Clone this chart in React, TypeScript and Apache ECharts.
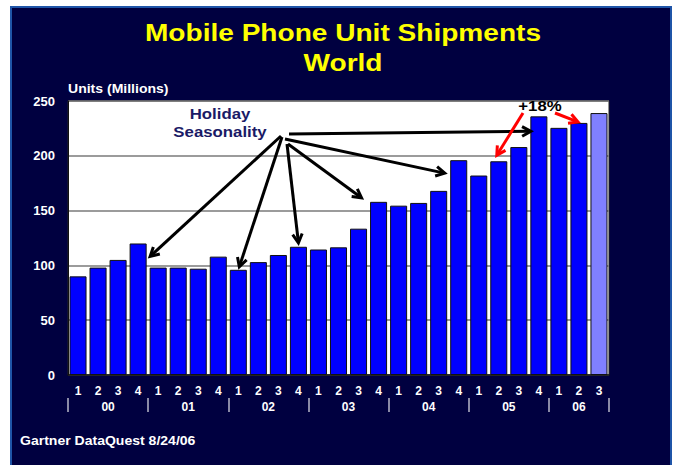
import { useEffect, useRef } from 'react';
import * as echarts from 'echarts';

// ---- data ----
const years = ['00', '01', '02', '03', '04', '05', '06'];
const quarterLabels = ['1', '2', '3', '4'];
// Units (millions), 2000 Q1 .. 2006 Q3
const shipments = [
  90, 98, 105, 120,
  98, 98, 97, 108,
  96, 103, 109.5, 117,
  114.5, 116.5, 133.5, 158,
  154.5, 157, 168, 196,
  182, 195, 208, 236,
  225.5, 230, 239,
];
const estimateIndex = 26; // last (lighter) bar
const yTickValues = [0, 50, 100, 150, 200, 250];
const titleLines = ['Mobile Phone Unit Shipments', 'World'];
const yAxisName = 'Units (Millions)';
const sourceNote = 'Gartner DataQuest 8/24/06';
const holidayLabel = ['Holiday', 'Seasonality'];
const growthLabel = '+18%';

const categories = shipments.map(
  (_, i) => years[Math.floor(i / 4)] + ' Q' + quarterLabels[i % 4]
);
const yearTickValues = years.map((_, i) => i * 4).concat([shipments.length]);
const yearLabelValues = years.map((_, i) => {
  const start = i * 4;
  const end = Math.min(start + 4, shipments.length);
  return (start + end) / 2;
});

// ---- annotation layout (pixels) ----
const FONT = '"Liberation Sans", Arial, Helvetica, sans-serif';
const holidayArrows = [
  { from: [281, 136], idx: 3, dx: 12, dy: 13 },
  { from: [282, 137], idx: 8, dx: 1, dy: -3 },
  { from: [287, 144], idx: 11, dx: 0, dy: -4 },
  { from: [288, 144], idx: 15, dx: -17, dy: -4 },
  { from: [285, 139], idx: 19, dx: -14, dy: 13 },
  { from: [289, 134], idx: 23, dx: -8, dy: 15 },
];
const growthArrows = [
  { from: [523, 113], idx: 21, dx: -2, dy: -6 },
  { from: [555, 113], idx: 25, dx: -1, dy: -1 },
];

function arrow(from: number[], to: number[], color: string, w: number, head = 10, spread = 0.5) {
  const a = Math.atan2(to[1] - from[1], to[0] - from[0]);
  const endX = to[0] - Math.cos(a) * 1.5;
  const endY = to[1] - Math.sin(a) * 1.5;
  return [
    {
      type: 'line',
      z: 100,
      shape: { x1: from[0], y1: from[1], x2: endX, y2: endY },
      style: { stroke: color, lineWidth: w },
    },
    {
      type: 'polyline',
      z: 100,
      shape: {
        points: [
          [to[0] - head * Math.cos(a - spread), to[1] - head * Math.sin(a - spread)],
          [to[0], to[1]],
          [to[0] - head * Math.cos(a + spread), to[1] - head * Math.sin(a + spread)],
        ],
      },
      style: { stroke: color, lineWidth: w, fill: null, lineJoin: 'miter' },
    },
  ];
}

function text(t: string, x: number, y: number, size: number, fill: string, align: string, scaleX = 1.15) {
  return {
    type: 'text',
    z: 100,
    x,
    y,
    scaleX,
    style: {
      text: t,
      fill,
      font: `bold ${size}px ${FONT}`,
      fontSize: size,
      fontWeight: 'bold',
      fontFamily: FONT,
      align,
      textAlign: align,
      verticalAlign: 'middle',
      textVerticalAlign: 'middle',
    },
  };
}

export default function App() {
  const ref = useRef<HTMLDivElement>(null);

  useEffect(() => {
    if (!ref.current) return;
    const chart = echarts.init(ref.current, null, { renderer: 'svg' });
    chart.setOption({
      animation: false,
      backgroundColor: 'transparent',
      grid: {
        left: 68,
        right: 66,
        top: 101,
        bottom: 90,
        show: true,
        backgroundColor: '#ffffff',
        borderColor: '#222',
        borderWidth: 1,
      },
      xAxis: [
        {
          type: 'category',
          data: categories,
          position: 'bottom',
          axisLine: { show: true, lineStyle: { color: '#111', width: 1.5 } },
          axisTick: { show: true, inside: true, alignWithLabel: true, length: 6, lineStyle: { color: '#222' } },
          axisLabel: {
            interval: 0,
            margin: 10,
            color: '#ffffff',
            fontSize: 12,
            fontWeight: 'bold',
            fontFamily: FONT,
            formatter: (v: string) => v.split(' Q')[1],
          },
        },
        {
          type: 'value',
          min: 0,
          max: shipments.length,
          position: 'bottom',
          offset: 23,
          axisLine: { show: false },
          splitLine: { show: false },
          axisTick: {
            show: true,
            length: 14,
            customValues: yearTickValues,
            lineStyle: { color: '#b8b8c8', width: 1.5 },
          },
          axisLabel: {
            customValues: yearLabelValues,
            margin: 3,
            color: '#ffffff',
            fontSize: 12,
            fontWeight: 'bold',
            fontFamily: FONT,
            formatter: (v: number) => years[Math.min(years.length - 1, Math.floor(v / 4))],
          },
        },
      ],
      yAxis: {
        type: 'value',
        min: 0,
        max: 250,
        interval: 50,
        axisLine: { show: true, lineStyle: { color: '#111' } },
        axisTick: { show: false },
        splitLine: { show: true, lineStyle: { color: '#7a7a7a', width: 1.5 } },
        axisLabel: {
          margin: 13,
          color: '#ffffff',
          fontSize: 13,
          fontWeight: 'bold',
          fontFamily: FONT,
          formatter: (v: number) => (yTickValues.includes(v) ? String(v) : ''),
        },
      },
      series: [
        {
          type: 'bar',
          xAxisIndex: 0,
          yAxisIndex: 0,
          barCategoryGap: '15%',
          data: shipments.map((v, i) =>
            i === estimateIndex ? { value: v, itemStyle: { color: '#8080ff' } } : v
          ),
          itemStyle: { color: '#0000ff', borderColor: '#111', borderWidth: 1 },
        },
      ],
    });

    const toPx = (i: number, v: number) =>
      chart.convertToPixel({ xAxisIndex: 0, yAxisIndex: 0 }, [i, v]) as number[];

    const graphics: any[] = [
      text(titleLines[0], 343, 33, 24, '#ffff00', 'center', 1.17),
      text(titleLines[1], 343, 63, 24, '#ffff00', 'center', 1.17),
      text(yAxisName, 68, 89, 12, '#ffffff', 'left', 1.17),
      text(sourceNote, 20, 441, 12, '#ffffff', 'left', 1.17),
      text(holidayLabel[0], 220, 114, 15, '#1a1a66', 'center', 1.12),
      text(holidayLabel[1], 220, 132, 15, '#1a1a66', 'center', 1.12),
      text(growthLabel, 540, 106, 15, '#000000', 'center', 1.12),
    ];
    holidayArrows.forEach((a) => {
      const p = toPx(a.idx, shipments[a.idx]);
      graphics.push(...arrow(a.from, [p[0] + a.dx, p[1] + a.dy], '#000000', 3));
    });
    growthArrows.forEach((a) => {
      const p = toPx(a.idx, shipments[a.idx]);
      graphics.push(...arrow(a.from, [p[0] + a.dx, p[1] + a.dy], '#ff0000', 3));
    });
    chart.setOption({ graphic: graphics });

    return () => chart.dispose();
  }, []);

  return (
    <div style={{ position: 'absolute', left: 0, top: 0, width: 675, height: 465, background: '#ffffff', overflow: 'hidden' }}>
      <div
        style={{
          position: 'absolute',
          left: 10,
          top: 6,
          width: 658,
          height: 470,
          background: '#000040',
          borderLeft: '2px solid #1f55a8',
          borderTop: '2px solid #1f55a8',
          borderRight: '2px solid #1f55a8',
        }}
      />
      <div ref={ref} style={{ position: 'absolute', left: 0, top: 0, width: 675, height: 465 }} />
    </div>
  );
}
